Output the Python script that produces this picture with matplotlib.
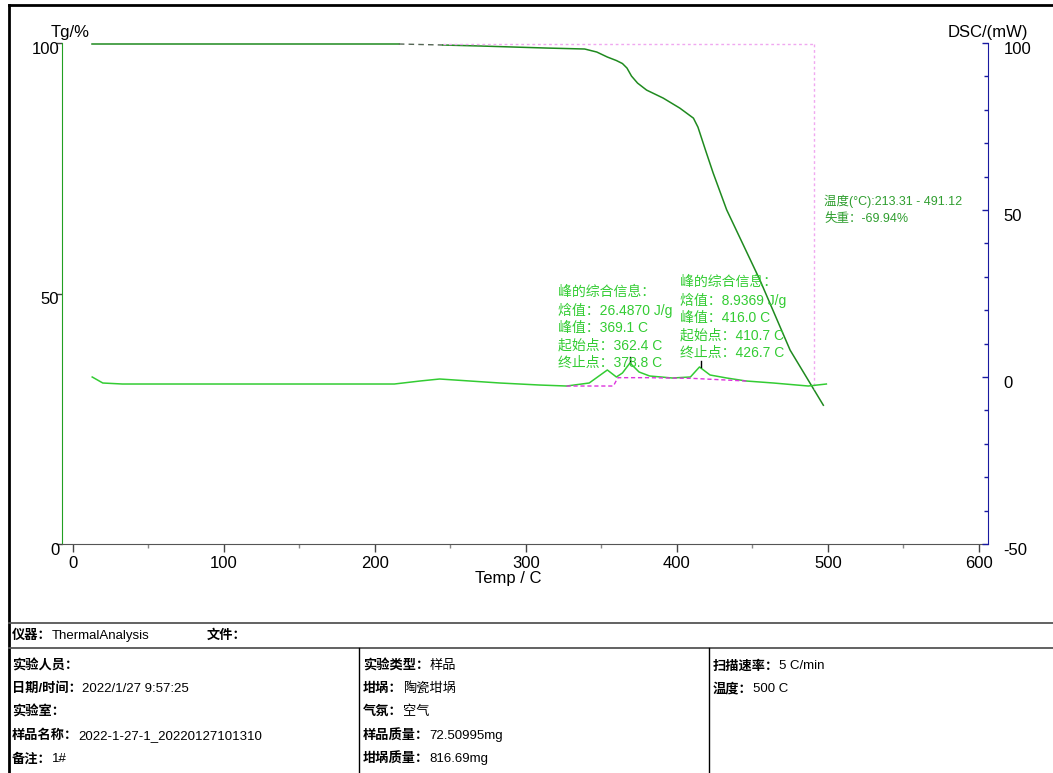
import matplotlib
matplotlib.use("Agg")
import matplotlib.pyplot as plt
from matplotlib.lines import Line2D
from matplotlib.transforms import ScaledTranslation
import numpy as np

plt.rcParams['font.family'] = ['Liberation Sans', 'Noto Sans CJK SC']
plt.rcParams['axes.unicode_minus'] = False

# ---------------- data ----------------
tg_temp = [13, 100, 216, 245, 270, 313, 339, 347, 354, 360, 364, 367, 370, 374,
           380, 391, 402, 411, 414, 419, 424, 433, 455, 475, 489, 497]
tg_mass = [99.8, 99.8, 99.8, 99.6, 99.4, 99.0, 98.8, 98.2, 97.2, 96.5, 95.9,
           95.0, 93.4, 92.0, 90.6, 89.0, 87.0, 85.0, 83.2, 78.6, 74.1, 66.7,
           52.7, 38.7, 31.7, 27.7]
tg_gap = (216, 245)          # part of the TG trace drawn dashed

dsc_temp = [13, 20, 33, 66, 150, 213, 230, 243, 263, 283, 309, 327, 342, 354,
            360, 364, 369, 375, 382, 397, 409, 415, 422, 433, 446, 464, 487, 499]
dsc_mw = [0.0, -1.8, -2.1, -2.1, -2.1, -2.1, -1.2, -0.6, -1.2, -1.8, -2.4,
          -2.7, -1.8, 2.1, 0.0, 1.2, 4.2, 1.5, 0.3, -0.3, 0.0, 3.0, 0.6, -0.3,
          -1.2, -1.8, -2.7, -2.1]

base_temp = [327, 358, 361, 380, 410, 446]
base_mw = [-2.7, -2.7, -0.2, -0.2, -0.4, -1.2]

peak_temp = [369.1, 416.0]
peak_mw = [4.2, 3.0]

step_start, step_end = 213.31, 491.12
step_top, step_bottom = 99.8, 31.0

peak_info = [
    ["峰的综合信息：", "焓值：26.4870 J/g", "峰值：369.1 C", "起始点：362.4 C", "终止点：378.8 C"],
    ["峰的综合信息：", "焓值：8.9369 J/g", "峰值：416.0 C", "起始点：410.7 C", "终止点：426.7 C"],
]
tg_info = ["温度(°C):213.31 - 491.12", "失重：-69.94%"]

table_row1 = [("仪器：", "ThermalAnalysis"), ("文件：", "")]
table_col1 = [("实验人员：", ""), ("日期/时间：", "2022/1/27 9:57:25"), ("实验室：", ""),
              ("样品名称：", "2022-1-27-1_20220127101310"), ("备注：", "1#")]
table_col2 = [("实验类型：", "样品"), ("坩埚：", "陶瓷坩埚"), ("气氛：", "空气"),
              ("样品质量：", "72.50995mg"), ("坩埚质量：", "816.69mg")]
table_col3 = [("扫描速率：", "5 C/min"), ("温度：", "500 C")]

# ---------------- figure ----------------
W, H = 1053, 773
fig = plt.figure(figsize=(W / 100, H / 100), dpi=100)


def fx(px):
    return px / W


def fy(py):
    return 1 - py / H


ax = fig.add_axes([fx(62), fy(544), fx(988) - fx(62), fy(43) - fy(544)])
ax2 = ax.twinx()

tg_green = "#1f8a1f"
dsc_green = "#33cc33"

# TG trace, with the dashed stretch
t = np.array(tg_temp, dtype=float)
m = np.array(tg_mass, dtype=float)
solid1 = t <= tg_gap[0]
dashed = (t >= tg_gap[0]) & (t <= tg_gap[1])
solid2 = t >= tg_gap[1]
ax.plot(t[solid1], m[solid1], color=tg_green, lw=1.1)
ax.plot(t[dashed], m[dashed], color="#556655", lw=1.0, ls=(0, (4, 3)))
ax.plot(t[solid2], m[solid2], color=tg_green, lw=1.1)

# TG step box
ax.plot([tg_gap[1], step_end], [step_top, step_top], color="#f0a8f0", lw=1.0, ls=(0, (2, 2)))
ax.plot([step_end, step_end], [step_top, step_bottom], color="#f0a8f0", lw=1.0, ls=(0, (2, 2)))

# DSC trace
ax2.plot(dsc_temp, dsc_mw, color=dsc_green, lw=1.1)
ax2.plot(base_temp, base_mw, color="#dd33dd", lw=1.0, ls=(0, (3, 2)))
for pt, pv in zip(peak_temp, peak_mw):
    ax2.plot([pt, pt], [pv, pv + 1.8], color="black", lw=1.0)

# axes limits / ticks
ax.set_xlim(-7, 606)
ax.set_ylim(0, 100)
ax2.set_ylim(-50, 100)

ax.set_xticks(range(0, 601, 100))
ax.set_xticks(range(50, 601, 100), minor=True)
ax.set_yticks([0, 50, 100])
ax2.set_yticks([-50, 0, 50, 100])
ax2.set_yticks(range(-40, 100, 10), minor=True)

ax.tick_params(axis="x", which="major", direction="out", length=6, width=1,
               color="#444444", labelsize=12, pad=3)
ax.tick_params(axis="x", which="minor", direction="out", length=3, width=1, color="#888888")
ax.tick_params(axis="y", direction="out", length=4, width=1, color="#444444",
               labelsize=12, pad=-2)
ax2.tick_params(axis="y", which="major", direction="in", length=4, width=1,
                color="#1a1aa0", labelsize=12, pad=11)
ax2.tick_params(axis="y", which="minor", direction="in", length=3, width=1, color="#1a1aa0")

for lab in ax.get_yticklabels() + ax2.get_yticklabels():
    lab.set_transform(lab.get_transform() + ScaledTranslation(0, -5 / 100, fig.dpi_scale_trans))

for s in ["top", "right"]:
    ax.spines[s].set_visible(False)
for s in ["top", "left", "bottom"]:
    ax2.spines[s].set_visible(False)
ax.spines["left"].set_color("#22a022")
ax.spines["bottom"].set_color("#555555")
ax2.spines["right"].set_color("#1a1aa0")

# axis titles
fig.text(fx(70), fy(33), "Tg/%", ha="center", va="center", fontsize=12)
fig.text(fx(988), fy(33), "DSC/(mW)", ha="center", va="center", fontsize=12)
fig.text(fx(508), fy(578), "Temp / C", ha="center", va="center", fontsize=12)

# annotations
fig.text(fx(558), fy(285), "\n".join(peak_info[0]), ha="left", va="top",
         fontsize=10, color=dsc_green, linespacing=1.3)
fig.text(fx(680), fy(275), "\n".join(peak_info[1]), ha="left", va="top",
         fontsize=10, color=dsc_green, linespacing=1.3)
fig.text(fx(824), fy(195), "\n".join(tg_info), ha="left", va="top",
         fontsize=9, color="#2f9e2f", linespacing=1.45)

# outer frame and info table
lc = "#555555"
fig.add_artist(Line2D([fx(9), 1], [fy(5), fy(5)], color="black", lw=2))
fig.add_artist(Line2D([fx(9), fx(9)], [fy(5), 0], color="black", lw=2))
fig.add_artist(Line2D([fx(9), 1], [fy(623), fy(623)], color=lc, lw=1.3))
fig.add_artist(Line2D([fx(9), 1], [fy(648), fy(648)], color=lc, lw=1.3))
fig.add_artist(Line2D([fx(359), fx(359)], [fy(648), 0], color="black", lw=1))
fig.add_artist(Line2D([fx(709), fx(709)], [fy(648), 0], color="black", lw=1))


def cell(x, y, label, value):
    lt = fig.text(fx(x), fy(y), label, fontweight="bold", fontsize=9.5,
                  ha="left", va="center")
    if value:
        ax.annotate(value, xy=(1, 0.5), xycoords=lt, ha="left", va="center",
                    fontsize=9.5, annotation_clip=False)


cell(12, 636, *table_row1[0])
cell(207, 636, *table_row1[1])
row_y = [666, 689, 712, 736, 759]
for (lab, val), y in zip(table_col1, row_y):
    cell(12, y, lab, val)
for (lab, val), y in zip(table_col2, row_y):
    cell(363, y, lab, val)
for (lab, val), y in zip(table_col3, row_y):
    cell(713, y, lab, val)

fig.savefig("out.png", dpi=100)
